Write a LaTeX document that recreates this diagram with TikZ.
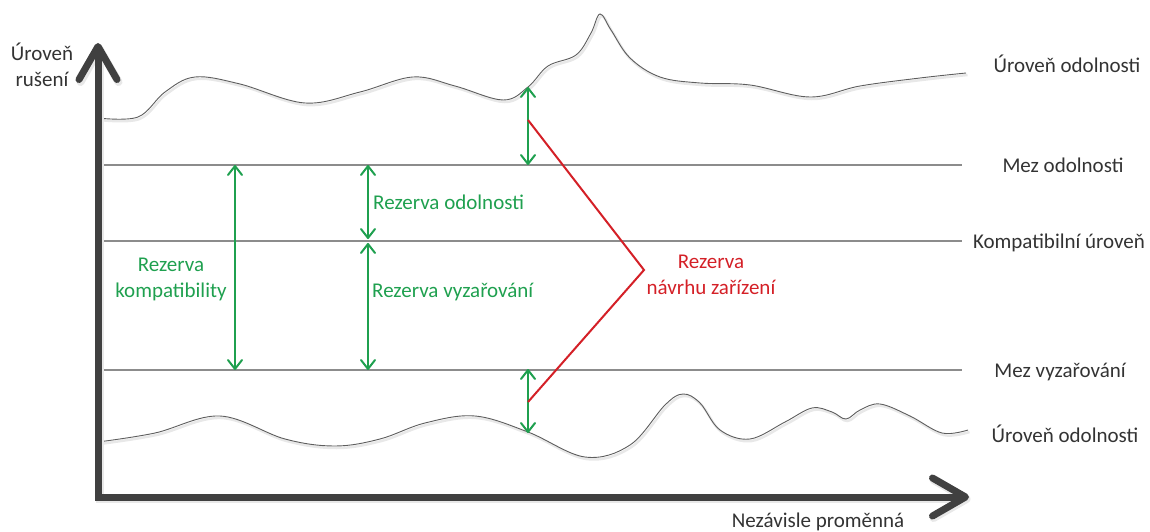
\documentclass[tikz,border=0pt]{standalone}
\usepackage{fontspec}
\setmainfont{Carlito}
\usetikzlibrary{arrows.meta}
\definecolor{axisgray}{HTML}{404040}
\definecolor{lvlgray}{HTML}{8C8C8C}
\definecolor{curvegray}{HTML}{5E5E5E}
\definecolor{margreen}{HTML}{1FA04F}
\definecolor{marred}{HTML}{D42027}
\definecolor{txtgray}{HTML}{333333}

\begin{document}
\begin{tikzpicture}[x=1pt,y=-1pt,
  lbl/.style={font=\fontsize{21}{26}\selectfont, inner sep=0pt, text=txtgray},
  glbl/.style={lbl, text=margreen},
  rlbl/.style={lbl, text=marred},
  soft/.style={preaction={draw=black!9, line width=#1, transform canvas={shift={(1.5pt,-2pt)}}}},
  axis/.style={draw=axisgray, line width=7pt, line join=miter,
    >={Straight Barb[length=33pt,width=38pt,line cap=round,round]}, soft=8pt},
  level/.style={draw=lvlgray, line width=1.1pt},
  curve/.style={draw=curvegray, line width=0.9pt, soft=2.5pt},
  garrow/.style={draw=margreen, line width=2pt,
    >={Straight Barb[length=9pt,width=14pt,round]}, <->},
  redline/.style={draw=marred, line width=2pt, line join=miter}]

\useasboundingbox (0,0) rectangle (1150,532);

% tolerance levels
\coordinate (mo0) at (98,165);   \coordinate (mo1) at (962,165);
\coordinate (ku0) at (98,241);   \coordinate (ku1) at (962,241);
\coordinate (mv0) at (98,370);   \coordinate (mv1) at (962,370);
\draw[level] (mo0) -- (mo1);
\draw[level] (ku0) -- (ku1);
\draw[level] (mv0) -- (mv1);

% immunity level (top) and emission level (bottom)
\draw[curve] plot[smooth, tension=0.6] coordinates {
  (98,118) (138,117) (165,92) (195,77) (240,84) (305,103) (360,92)
  (413,77) (455,86) (503,100) (528,87) (548,66) (576,55) (591,33)
  (600,14) (611,30) (630,58) (660,77) (700,83) (750,85) (810,97)
  (860,86) (920,78) (966,73)};
\draw[curve] plot[smooth, tension=0.6] coordinates {
  (98,442) (155,433) (220,416) (285,439) (335,446) (380,439) (425,423)
  (475,416) (528,432) (585,457) (630,445) (665,405) (683,394) (700,403)
  (720,430) (750,439) (785,422) (812,408) (832,412) (846,419) (860,410)
  (880,404) (910,416) (942,433) (968,430)};

% axes
\coordinate (ytip) at (98,43);
\coordinate (org)  at (98,497);
\coordinate (xtip) at (969,497);
\draw[axis, <->] (ytip) -- (org) -- (xtip);

% margins
\coordinate (a1) at (528,87);   \coordinate (a2) at (528,165);
\coordinate (b1) at (528,369);  \coordinate (b2) at (528,433);
\coordinate (k1) at (235,165);  \coordinate (k2) at (235,370);
\coordinate (o1) at (368,165);  \coordinate (o2) at (368,239);
\coordinate (v1) at (368,243);  \coordinate (v2) at (368,370);
\draw[garrow] (a1) -- (a2);
\draw[garrow] (b1) -- (b2);
\draw[garrow] (k1) -- (k2);
\draw[garrow] (o1) -- (o2);
\draw[garrow] (v1) -- (v2);

% design margin
\coordinate (r1) at (528,120);
\coordinate (rc) at (644,270);
\coordinate (r2) at (528,402);
\draw[redline] (r1) -- (rc) -- (r2);

% labels (base anchor of a multi-line node sits on its last line)
\node[lbl, anchor=base] (lvlTop) at (1067,73) {Úroveň odolnosti};
\node[lbl, anchor=base] (mezOd)  at (1063,172) {Mez odolnosti};
\node[lbl, anchor=base] (komp)   at (1059,248) {Kompatibilní úroveň};
\node[lbl, anchor=base] (mezVy)  at (1060,377) {Mez vyzařování};
\node[lbl, anchor=base] (lvlBot) at (1065,442) {Úroveň odolnosti};
\node[lbl, anchor=base] (xlab)   at (818,527) {Nezávisle proměnná};
\node[lbl, align=center, anchor=base] (ylab) at (42,87) {Úroveň\\rušení};

\node[glbl, anchor=base west] (rOd) at (373,209) {Rezerva odolnosti};
\node[glbl, anchor=base west] (rVy) at (372,297) {Rezerva vyzařování};
\node[glbl, align=center, anchor=base] (rKomp) at (171,297) {Rezerva\\kompatibility};
\node[rlbl, align=center, anchor=base] (rNav) at (711,294) {Rezerva\\návrhu zařízení};
\end{tikzpicture}
\end{document}
